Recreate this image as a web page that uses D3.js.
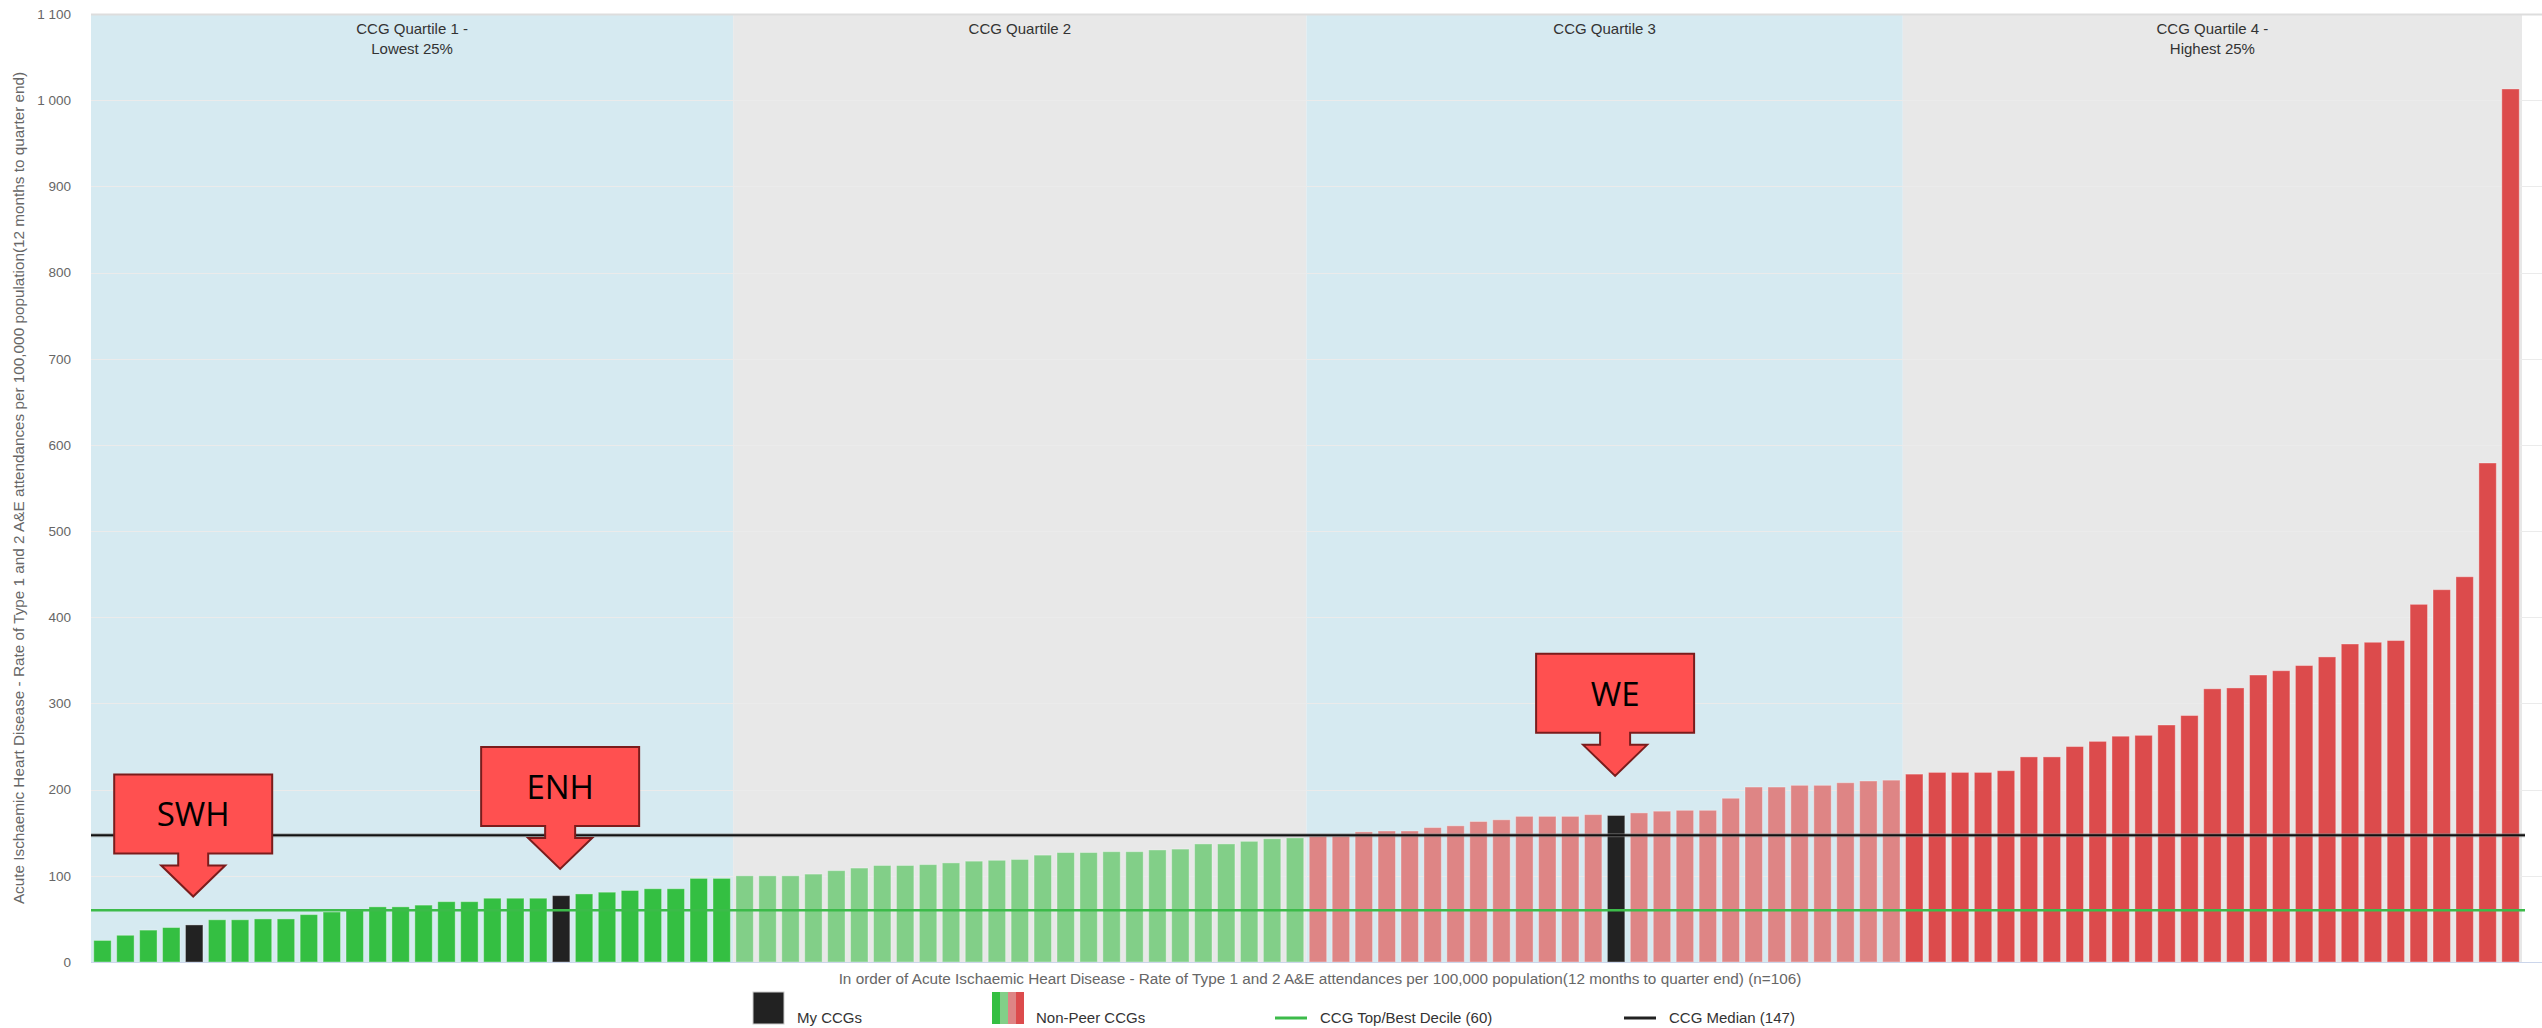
<!DOCTYPE html>
<html>
<head>
<meta charset="utf-8">
<script src="https://cdnjs.cloudflare.com/ajax/libs/d3/7.8.5/d3.min.js"></script>
<style>
	body { margin: 0; background: #fff; }
	svg { display: block; }
	text { font-family: "Liberation Sans", Arial, sans-serif; }
</style>
</head>
<body>
<div id="chart"></div>
<script>
var
	// rate per 100,000 population, CCGs sorted ascending (n=106)
	rates = [
		25, 31, 37, 40, 43, 49, 49, 50, 50, 55, 58, 60, 64, 64, 66, 70, 70, 74, 74, 74,
		77, 79, 81, 83, 85, 85, 97, 97,
		100, 100, 100, 102, 106, 109, 112, 112, 113, 115, 117, 118, 119, 124, 127, 127,
		128, 128, 130, 131, 137, 137, 140, 143, 144,
		146, 146, 151, 152, 152, 156, 158, 163, 165, 169, 169, 169, 171, 170, 173, 175,
		176, 176, 190, 203, 203, 205, 205, 208, 210, 211,
		218, 220, 220, 220, 222, 238, 238, 250, 256, 262, 263, 275, 286, 317, 318, 333,
		338, 344, 354, 369, 371, 373, 415, 432, 447, 579, 1013
	],

	quartileStarts = [0, 28, 53, 79],
	quartileLabels = [
		["CCG Quartile 1 -", "Lowest 25%"],
		["CCG Quartile 2"],
		["CCG Quartile 3"],
		["CCG Quartile 4 -", "Highest 25%"]
	],

	myCcgIndex = [4, 20, 66],
	myCcgNames = ["SWH", "ENH", "WE"],
	arrowTips = [76, 108, 216],

	topDecile = 60,
	median = 147,

	yTicks = [0, 100, 200, 300, 400, 500, 600, 700, 800, 900, 1000, 1100],

	yTitle = "Acute Ischaemic Heart Disease - Rate of Type 1 and 2 A&E attendances per 100,000 population(12 months to quarter end)",
	xTitle = "In order of Acute Ischaemic Heart Disease - Rate of Type 1 and 2 A&E attendances per 100,000 population(12 months to quarter end) (n=" + rates.length + ")",

	barColours = ["#34bf42", "#82cf88", "#de8585", "#dc4b4c"],
	bandColours = ["#d6eaf1", "#e8e8e8", "#d6eaf1", "#e8e8e8"],
	myColour = "#222222",
	decileColour = "#3cbb4a";

(function(){

	var
		W = 2542,
		H = 1028,
		plotLeft = 91,
		plotRight = 2522,
		plotTop = 14,
		plotBottom = 962,

		svg = d3.select("#chart")
			.append("svg")
			.attr("width", W)
			.attr("height", H),

		x = d3.scaleBand()
			.domain(d3.range(rates.length))
			.range([plotLeft, plotRight])
			.paddingInner(0.24)
			.paddingOuter(0.12),

		y = d3.scaleLinear()
			.domain([0, 1100])
			.range([plotBottom, plotTop]),

		fmt = d3.formatLocale({ decimal: ".", thousands: " ", grouping: [3], currency: ["", ""] }).format(","),

		quartileOf = function(i){
			return d3.bisectRight(quartileStarts, i) - 1;
		},

		slotLeft = function(i){
			return x(i) - x.step() * 0.12;
		},

		bandEnds = quartileStarts.slice(1).concat([rates.length]),

		bandX1 = function(d, i){
			return slotLeft(bandEnds[i] - 1) + x.step();
		};

	// quartile bands
	svg.selectAll("rect.band")
		.data(quartileStarts)
		.enter().append("rect")
		.attr("class", "band")
		.attr("x", function(d){ return slotLeft(d); })
		.attr("y", plotTop)
		.attr("width", function(d, i){ return bandX1(d, i) - slotLeft(d); })
		.attr("height", plotBottom - plotTop)
		.style("fill", function(d, i){ return bandColours[i]; });

	// grid
	svg.selectAll("line.grid")
		.data(yTicks)
		.enter().append("line")
		.attr("class", "grid")
		.attr("x1", plotLeft)
		.attr("x2", W)
		.attr("y1", function(d){ return Math.round(y(d)) + 0.5; })
		.attr("y2", function(d){ return Math.round(y(d)) + 0.5; })
		.style("stroke", function(d){ return d === 1100 ? "#dddddd" : "#ebebeb"; })
		.style("stroke-width", function(d){ return d === 1100 ? 2 : 1; });

	// quartile titles
	svg.selectAll("text.quartile")
		.data(quartileStarts)
		.enter().append("text")
		.attr("class", "quartile")
		.attr("x", function(d, i){ return (slotLeft(d) + bandX1(d, i)) / 2; })
		.attr("y", 34)
		.attr("text-anchor", "middle")
		.style("font-size", "15px")
		.style("fill", "#333")
		.selectAll("tspan")
		.data(function(d, i){ return quartileLabels[i]; })
		.enter().append("tspan")
		.attr("x", function(){ return d3.select(this.parentNode).attr("x"); })
		.attr("dy", function(d, j){ return j === 0 ? 0 : 20; })
		.text(function(d){ return d; });

	// y axis
	var yAxis = svg.append("g")
		.attr("transform", "translate(" + (plotLeft - 8) + ",0)")
		.call(d3.axisLeft(y).tickValues(yTicks).tickFormat(fmt).tickSize(0).tickPadding(12));

	yAxis.select(".domain").remove();
	yAxis.selectAll("text")
		.style("font-family", "'Liberation Sans', Arial, sans-serif")
		.style("font-size", "13.5px")
		.style("fill", "#666");

	svg.append("text")
		.attr("transform", "translate(24," + ((plotTop + plotBottom) / 2) + ") rotate(-90)")
		.attr("text-anchor", "middle")
		.style("font-size", "15.3px")
		.style("fill", "#666")
		.text(yTitle);

	// bars
	svg.selectAll("rect.bar")
		.data(rates)
		.enter().append("rect")
		.attr("class", "bar")
		.attr("x", function(d, i){ return x(i); })
		.attr("y", function(d){ return y(d); })
		.attr("width", x.bandwidth())
		.attr("height", function(d){ return plotBottom - y(d); })
		.style("fill", function(d, i){
			return myCcgIndex.indexOf(i) >= 0 ? myColour : barColours[quartileOf(i)];
		})
		.style("stroke", "#fff")
		.style("stroke-opacity", 0.35)
		.style("stroke-width", 1);

	// x axis line
	svg.append("line")
		.attr("x1", plotLeft)
		.attr("x2", W)
		.attr("y1", plotBottom + 0.5)
		.attr("y2", plotBottom + 0.5)
		.style("stroke", "#ccd6eb");

	// reference lines
	svg.append("line")
		.attr("x1", plotLeft)
		.attr("x2", plotRight + 3)
		.attr("y1", y(topDecile))
		.attr("y2", y(topDecile))
		.style("stroke", decileColour)
		.style("stroke-width", 2.5);

	svg.append("line")
		.attr("x1", plotLeft)
		.attr("x2", plotRight + 3)
		.attr("y1", y(median))
		.attr("y2", y(median))
		.style("stroke", "#888")
		.style("stroke-opacity", 0.6)
		.style("stroke-width", 4);

	svg.append("line")
		.attr("x1", plotLeft)
		.attr("x2", plotRight + 3)
		.attr("y1", y(median))
		.attr("y2", y(median))
		.style("stroke", "#111")
		.style("stroke-width", 2);

	// x title
	svg.append("text")
		.attr("x", 1320)
		.attr("y", 984)
		.attr("text-anchor", "middle")
		.style("font-size", "15.3px")
		.style("fill", "#666")
		.text(xTitle);

	// callouts over my CCGs
	var callout = function(cx, tip){
		var bw = 79, by = tip - 43, bt = tip - 122;
		return "M" + (cx - bw) + "," + bt +
			"H" + (cx + bw) + "V" + by +
			"H" + (cx + 15) + "V" + (by + 12) +
			"H" + (cx + 32) + "L" + cx + "," + tip +
			"L" + (cx - 32) + "," + (by + 12) +
			"H" + (cx - 15) + "V" + by +
			"H" + (cx - bw) + "Z";
	};

	var notes = svg.selectAll("g.note")
		.data(myCcgIndex)
		.enter().append("g")
		.attr("class", "note");

	notes.append("path")
		.attr("d", function(d, i){ return callout(x(d) + x.bandwidth() / 2 - 1, y(arrowTips[i])); })
		.style("fill", "#ff5050")
		.style("stroke", "#7a1c1c")
		.style("stroke-width", 2)
		.style("stroke-linejoin", "miter");

	notes.append("text")
		.attr("x", function(d){ return x(d) + x.bandwidth() / 2 - 1; })
		.attr("y", function(d, i){ return y(arrowTips[i]) - 82; })
		.attr("dy", "0.36em")
		.attr("text-anchor", "middle")
		.style("font-family", "'Open Sans', 'Noto Sans', sans-serif")
		.style("font-size", "33px")
		.style("fill", "#000")
		.text(function(d, i){ return myCcgNames[i]; });

	// legend
	var legend = svg.append("g");

	legend.append("rect")
		.attr("x", 753)
		.attr("y", 992)
		.attr("width", 31)
		.attr("height", 32)
		.style("fill", myColour)
		.style("stroke", "#ccc")
		.style("stroke-width", 1);

	legend.selectAll("rect.stripe")
		.data(barColours)
		.enter().append("rect")
		.attr("class", "stripe")
		.attr("x", function(d, i){ return 992 + i * 8; })
		.attr("y", 992)
		.attr("width", 8)
		.attr("height", 32)
		.style("fill", function(d){ return d; });

	legend.append("line")
		.attr("x1", 1275).attr("x2", 1307)
		.attr("y1", 1018).attr("y2", 1018)
		.style("stroke", decileColour)
		.style("stroke-width", 3);

	legend.append("line")
		.attr("x1", 1624).attr("x2", 1656)
		.attr("y1", 1018).attr("y2", 1018)
		.style("stroke", "#222")
		.style("stroke-width", 3);

	legend.selectAll("text.item")
		.data([
			[797, "My CCGs"],
			[1036, "Non-Peer CCGs"],
			[1320, "CCG Top/Best Decile (" + topDecile + ")"],
			[1669, "CCG Median (" + median + ")"]
		])
		.enter().append("text")
		.attr("class", "item")
		.attr("x", function(d){ return d[0]; })
		.attr("y", 1023)
		.style("font-size", "15px")
		.style("fill", "#333")
		.text(function(d){ return d[1]; });

})();
</script>
</body>
</html>
